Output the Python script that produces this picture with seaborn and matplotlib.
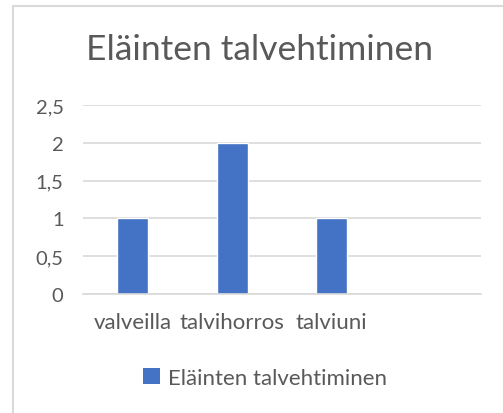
import matplotlib
matplotlib.use("Agg")
import matplotlib.pyplot as plt
import seaborn as sns
import pandas as pd
from matplotlib.lines import Line2D
from matplotlib.patches import Patch

# data (fourth category is empty in the original)
categories = ["valveilla", "talvihorros", "talviuni", ""]
values = [1, 2, 1, 0]
series_name = "Eläinten talvehtiminen"
yticks = [0, 0.5, 1, 1.5, 2, 2.5]
ytick_labels = ["0", "0,5", "1", "1,5", "2", "2,5"]

sns.set_style("white")
plt.rcParams['font.family'] = ['Lato', 'DejaVu Sans']

df = pd.DataFrame({"kategoria": categories, "arvo": values})

fig = plt.figure(figsize=(5.03, 4.14), dpi=100)
ax = fig.add_axes([83 / 503, 1 - 295 / 414, 398 / 503, 189 / 414])

sns.barplot(data=df, x="kategoria", y="arvo", color="#4472C4", width=0.31,
            saturation=1, ax=ax)
# hide the empty fourth bar (value 0)
ax.patches[3].set_visible(False)

ax.set_ylim(0, 2.5)
ax.set_xlim(-0.5, 3.5)
ax.set_yticks(yticks)
ax.set_yticklabels(ytick_labels)
ax.yaxis.grid(True, color="#D9D9D9", linewidth=1.2)
ax.set_axisbelow(True)
for s in ["top", "right", "left"]:
    ax.spines[s].set_visible(False)
ax.spines["bottom"].set_color("#D9D9D9")
ax.spines["bottom"].set_linewidth(1.2)
ax.tick_params(axis="both", length=0, labelcolor="#595959")
ax.tick_params(axis="y", pad=14, labelsize=14.5)
ax.tick_params(axis="x", pad=13, labelsize=16)
ax.set_xlabel("")
ax.set_ylabel("")

fig.text(259 / 503, 1 - 50 / 414, series_name, ha="center", va="center",
         fontsize=25.5, color="#595959")

handle = Patch(facecolor="#4472C4", edgecolor="none")
fig.legend([handle], [series_name], loc="center", bbox_to_anchor=(265 / 503, 1 - 379 / 414),
           frameon=False, fontsize=16, labelcolor="#595959",
           handlelength=0.75, handleheight=0.75, handletextpad=0.35)

# chart border (top and left edges visible)
fig.add_artist(Line2D([13 / 503, 1], [1 - 7 / 414, 1 - 7 / 414], color="#D9D9D9", linewidth=1.5))
fig.add_artist(Line2D([13 / 503, 13 / 503], [0, 1 - 7 / 414], color="#D9D9D9", linewidth=1.5))

fig.savefig("out.png", dpi=100)
